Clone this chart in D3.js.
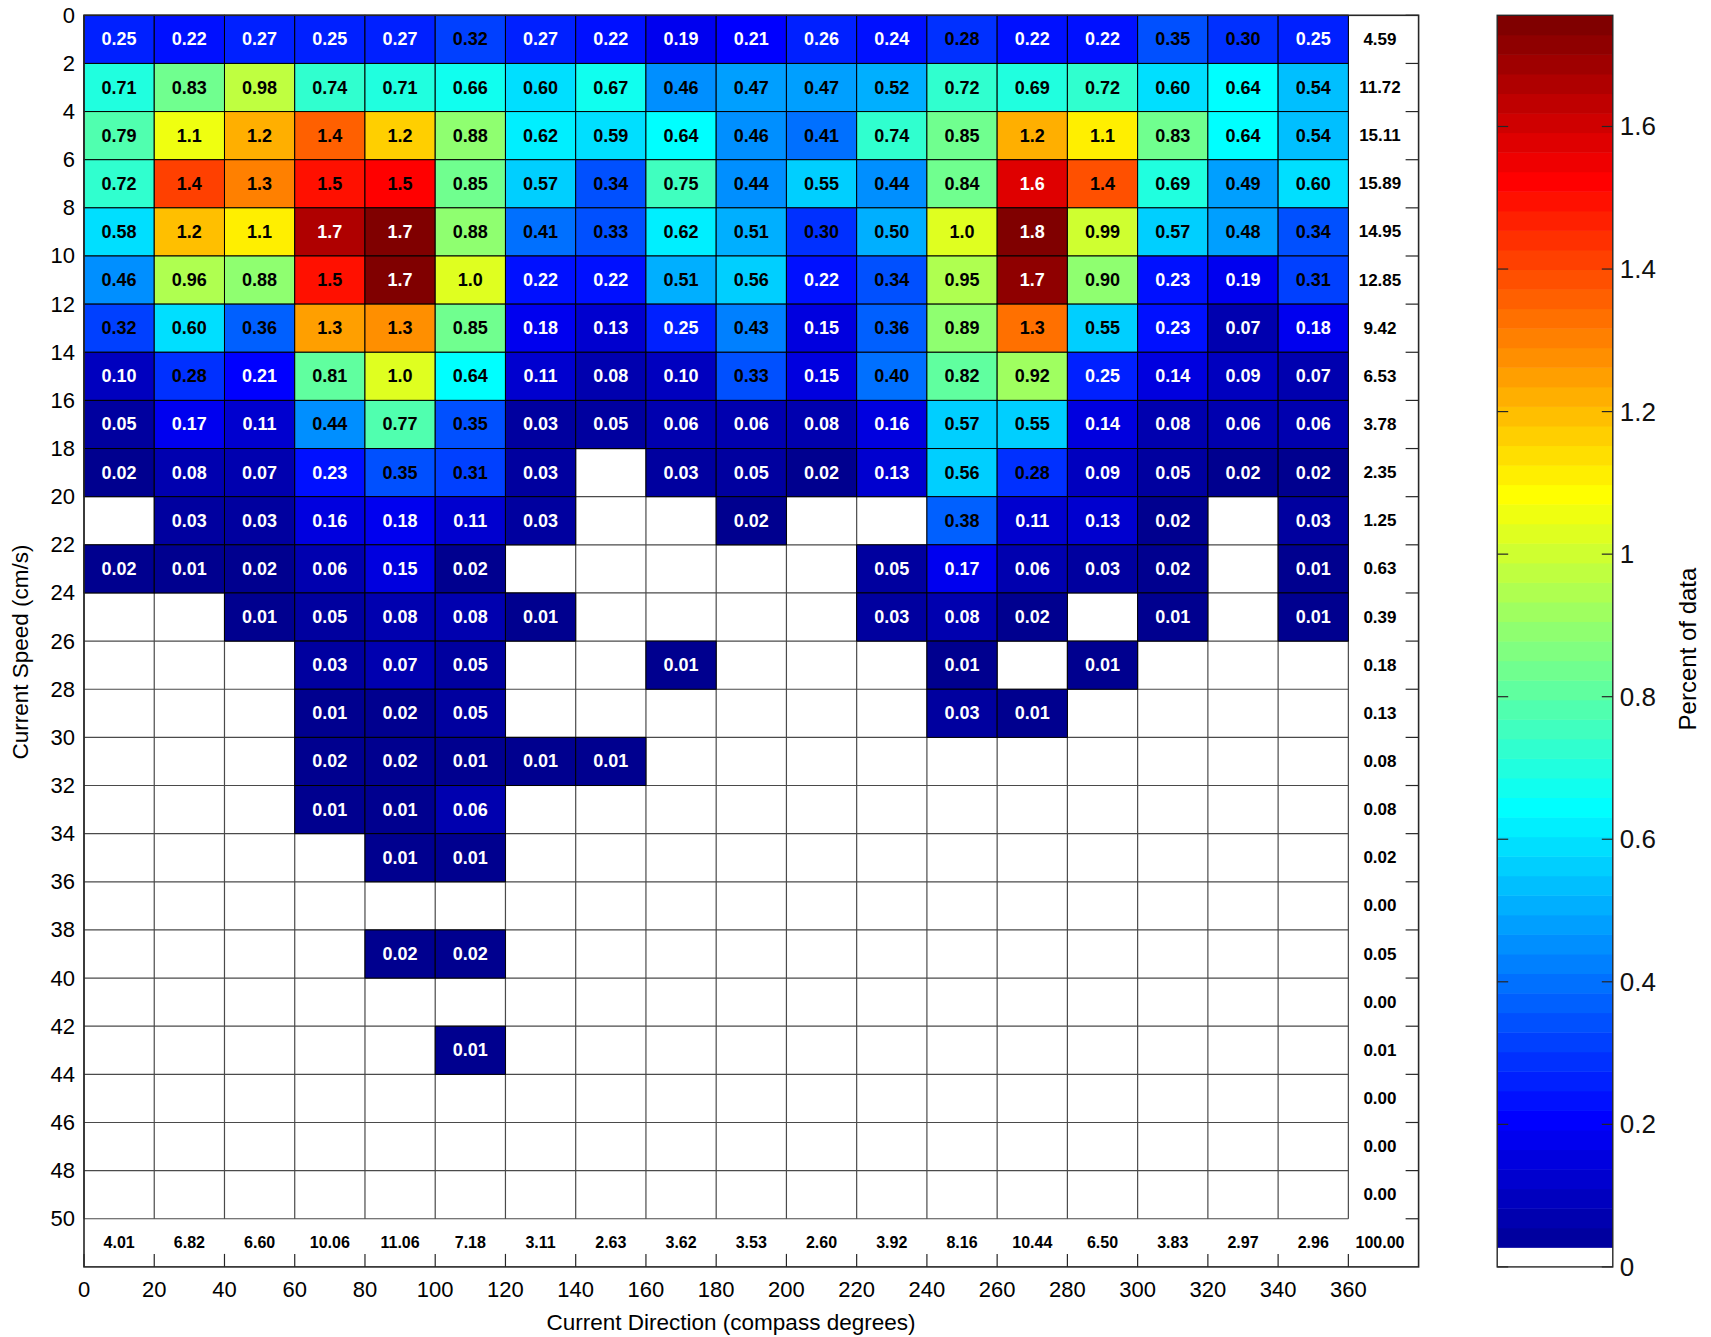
<!DOCTYPE html>
<html>
<head>
<meta charset="utf-8">
<script src="https://cdn.jsdelivr.net/npm/d3@7"></script>
<style>
  body { margin: 0; background: #fff; }
  svg { display: block; }
  text { font-family: "Liberation Sans", Arial, Helvetica, sans-serif; }
</style>
</head>
<body>
<svg id="chart" width="1711" height="1337"></svg>
<script>
// ---------------- DATA ----------------
// direction bins (left edge, compass degrees), width 20
const directionBins = [0, 20, 40, 60, 80, 100, 120, 140, 160, 180, 200, 220, 240, 260, 280, 300, 320, 340];
// speed bins (lower edge, cm/s), width 2
const speedBins = [0, 2, 4, 6, 8, 10, 12, 14, 16, 18, 20, 22, 24, 26, 28, 30, 32, 34, 36, 38, 40, 42, 44, 46, 48];
// percent of data, one array per speed bin (rows), one entry per direction bin; null = no data
const percentBySpeed = [
  [0.25, 0.22, 0.27, 0.25, 0.27, 0.32, 0.27, 0.22, 0.19, 0.21, 0.26, 0.24, 0.28, 0.22, 0.22, 0.35, 0.30, 0.25],
  [0.71, 0.83, 0.98, 0.74, 0.71, 0.66, 0.60, 0.67, 0.46, 0.47, 0.47, 0.52, 0.72, 0.69, 0.72, 0.60, 0.64, 0.54],
  [0.79, 1.06, 1.23, 1.36, 1.16, 0.88, 0.62, 0.59, 0.64, 0.46, 0.41, 0.74, 0.85, 1.23, 1.11, 0.83, 0.64, 0.54],
  [0.72, 1.40, 1.30, 1.49, 1.51, 0.85, 0.57, 0.34, 0.75, 0.44, 0.55, 0.44, 0.84, 1.58, 1.39, 0.69, 0.49, 0.60],
  [0.58, 1.18, 1.12, 1.66, 1.74, 0.88, 0.41, 0.33, 0.62, 0.51, 0.30, 0.50, 1.02, 1.75, 0.99, 0.57, 0.48, 0.34],
  [0.46, 0.96, 0.88, 1.50, 1.74, 1.02, 0.22, 0.22, 0.51, 0.56, 0.22, 0.34, 0.95, 1.72, 0.90, 0.23, 0.19, 0.31],
  [0.32, 0.60, 0.36, 1.26, 1.28, 0.85, 0.18, 0.13, 0.25, 0.43, 0.15, 0.36, 0.89, 1.32, 0.55, 0.23, 0.07, 0.18],
  [0.10, 0.28, 0.21, 0.81, 1.03, 0.64, 0.11, 0.08, 0.10, 0.33, 0.15, 0.40, 0.82, 0.92, 0.25, 0.14, 0.09, 0.07],
  [0.05, 0.17, 0.11, 0.44, 0.77, 0.35, 0.03, 0.05, 0.06, 0.06, 0.08, 0.16, 0.57, 0.55, 0.14, 0.08, 0.06, 0.06],
  [0.02, 0.08, 0.07, 0.23, 0.35, 0.31, 0.03, null, 0.03, 0.05, 0.02, 0.13, 0.56, 0.28, 0.09, 0.05, 0.02, 0.02],
  [null, 0.03, 0.03, 0.16, 0.18, 0.11, 0.03, null, null, 0.02, null, null, 0.38, 0.11, 0.13, 0.02, null, 0.03],
  [0.02, 0.01, 0.02, 0.06, 0.15, 0.02, null, null, null, null, null, 0.05, 0.17, 0.06, 0.03, 0.02, null, 0.01],
  [null, null, 0.01, 0.05, 0.08, 0.08, 0.01, null, null, null, null, 0.03, 0.08, 0.02, null, 0.01, null, 0.01],
  [null, null, null, 0.03, 0.07, 0.05, null, null, 0.01, null, null, null, 0.01, null, 0.01, null, null, null],
  [null, null, null, 0.01, 0.02, 0.05, null, null, null, null, null, null, 0.03, 0.01, null, null, null, null],
  [null, null, null, 0.02, 0.02, 0.01, 0.01, 0.01, null, null, null, null, null, null, null, null, null, null],
  [null, null, null, 0.01, 0.01, 0.06, null, null, null, null, null, null, null, null, null, null, null, null],
  [null, null, null, null, 0.01, 0.01, null, null, null, null, null, null, null, null, null, null, null, null],
  [null, null, null, null, null, null, null, null, null, null, null, null, null, null, null, null, null, null],
  [null, null, null, null, 0.02, 0.02, null, null, null, null, null, null, null, null, null, null, null, null],
  [null, null, null, null, null, null, null, null, null, null, null, null, null, null, null, null, null, null],
  [null, null, null, null, null, 0.01, null, null, null, null, null, null, null, null, null, null, null, null],
  [null, null, null, null, null, null, null, null, null, null, null, null, null, null, null, null, null, null],
  [null, null, null, null, null, null, null, null, null, null, null, null, null, null, null, null, null, null],
  [null, null, null, null, null, null, null, null, null, null, null, null, null, null, null, null, null, null]
];
const speedTotals = [4.59, 11.72, 15.11, 15.89, 14.95, 12.85, 9.42, 6.53, 3.78, 2.35, 1.25, 0.63, 0.39, 0.18, 0.13, 0.08, 0.08, 0.02, 0.00, 0.05, 0.00, 0.01, 0.00, 0.00, 0.00];
const directionTotals = [4.01, 6.82, 6.60, 10.06, 11.06, 7.18, 3.11, 2.63, 3.62, 3.53, 2.60, 3.92, 8.16, 10.44, 6.50, 3.83, 2.97, 2.96];
const grandTotal = 100.00;

const xTickValues = [0, 20, 40, 60, 80, 100, 120, 140, 160, 180, 200, 220, 240, 260, 280, 300, 320, 340, 360];
const yTickValues = [0, 2, 4, 6, 8, 10, 12, 14, 16, 18, 20, 22, 24, 26, 28, 30, 32, 34, 36, 38, 40, 42, 44, 46, 48, 50];
const colorTickValues = [0, 0.2, 0.4, 0.6, 0.8, 1, 1.2, 1.4, 1.6];
const colorMax = 1.756;
const nColors = 64;

const xLabel = "Current Direction (compass degrees)";
const yLabel = "Current Speed (cm/s)";
const cbLabel = "Percent of data";

// ---------------- LAYOUT ----------------
const plot = { left: 84, right: 1418.6, top: 15.3, bottom: 1266.9 };
const cb = { left: 1497.2, right: 1612.8, top: 15.3, bottom: 1266.9 };

const svg = d3.select("#chart");
svg.append("rect").attr("width", 1711).attr("height", 1337).attr("fill", "#fff");

const x = d3.scaleLinear().domain([0, 380]).range([plot.left, plot.right]);
const y = d3.scaleLinear().domain([0, 52]).range([plot.top, plot.bottom]);
const cScale = d3.scaleLinear().domain([0, colorMax]).range([cb.bottom, cb.top]);

// MATLAB jet(64)
function jet(i) {
  let r, g, b;
  if (i < 8) b = 0.5625 + 0.0625 * i; else if (i < 24) b = 1; else if (i < 40) b = 1 - 0.0625 * (i - 23); else b = 0;
  if (i < 8) g = 0; else if (i < 24) g = 0.0625 * (i - 7); else if (i < 40) g = 1; else if (i < 56) g = 1 - 0.0625 * (i - 39); else g = 0;
  if (i < 24) r = 0; else if (i < 40) r = 0.0625 * (i - 23); else if (i < 56) r = 1; else r = 1 - 0.0625 * (i - 55);
  return d3.rgb(Math.round(r * 255), Math.round(g * 255), Math.round(b * 255)).formatHex();
}
const colorIndex = v => Math.max(0, Math.min(nColors - 1, Math.floor(v / colorMax * nColors)));

// ---------------- GRID ----------------
const gridG = svg.append("g");
gridG.selectAll("line.v").data(xTickValues).join("line")
  .attr("x1", d => x(d)).attr("x2", d => x(d))
  .attr("y1", y(0)).attr("y2", y(50))
  .attr("stroke", "#4a4a4a").attr("stroke-width", 1.2);
gridG.selectAll("line.h").data(yTickValues).join("line")
  .attr("x1", x(0)).attr("x2", x(360))
  .attr("y1", d => y(d)).attr("y2", d => y(d))
  .attr("stroke", "#4a4a4a").attr("stroke-width", 1.2);

// ---------------- CELLS ----------------
const cells = [];
percentBySpeed.forEach((row, i) => row.forEach((v, j) => {
  if (v !== null) cells.push({ speed: speedBins[i], dir: directionBins[j], v });
}));

const cellG = svg.append("g");
cellG.selectAll("rect").data(cells).join("rect")
  .attr("x", d => x(d.dir)).attr("y", d => y(d.speed))
  .attr("width", d => x(d.dir + 20) - x(d.dir))
  .attr("height", d => y(d.speed + 2) - y(d.speed))
  .attr("fill", d => jet(colorIndex(d.v)))
  .attr("stroke", "#000").attr("stroke-width", 1);

const fmtCell = v => v >= 1 ? v.toFixed(1) : v.toFixed(2);
cellG.selectAll("text").data(cells).join("text")
  .attr("x", d => x(d.dir + 10)).attr("y", d => y(d.speed + 1))
  .attr("text-anchor", "middle").attr("dominant-baseline", "central")
  .attr("font-size", 18).attr("font-weight", "bold")
  .attr("fill", d => { const k = colorIndex(d.v); return (k <= 9 || k >= 56) ? "#fff" : "#000"; })
  .text(d => fmtCell(d.v));

// ---------------- TOTALS ----------------
svg.append("g").selectAll("text").data(speedTotals).join("text")
  .attr("x", x(369)).attr("y", (d, i) => y(speedBins[i] + 1))
  .attr("text-anchor", "middle").attr("dominant-baseline", "central")
  .attr("font-size", 17).attr("font-weight", "bold").attr("fill", "#000")
  .text(d => d.toFixed(2));

svg.append("g").selectAll("text").data(directionTotals).join("text")
  .attr("x", (d, i) => x(directionBins[i] + 10)).attr("y", y(51))
  .attr("text-anchor", "middle").attr("dominant-baseline", "central")
  .attr("font-size", 16).attr("font-weight", "bold").attr("fill", "#000")
  .text(d => d.toFixed(2));

svg.append("text")
  .attr("x", x(369)).attr("y", y(51))
  .attr("text-anchor", "middle").attr("dominant-baseline", "central")
  .attr("font-size", 16).attr("font-weight", "bold").attr("fill", "#000")
  .text(grandTotal.toFixed(2));

// ---------------- AXES ----------------
const axisG = svg.append("g");
const tickLen = 13;
// bottom ticks (inward)
axisG.selectAll("line.bt").data(xTickValues).join("line")
  .attr("x1", d => x(d)).attr("x2", d => x(d))
  .attr("y1", plot.bottom).attr("y2", plot.bottom - tickLen)
  .attr("stroke", "#262626").attr("stroke-width", 1.2);
// right ticks (inward)
axisG.selectAll("line.rt").data(yTickValues).join("line")
  .attr("x1", plot.right).attr("x2", plot.right - tickLen)
  .attr("y1", d => y(d)).attr("y2", d => y(d))
  .attr("stroke", "#262626").attr("stroke-width", 1.2);
// frame
axisG.append("rect")
  .attr("x", plot.left).attr("y", plot.top)
  .attr("width", plot.right - plot.left).attr("height", plot.bottom - plot.top)
  .attr("fill", "none").attr("stroke", "#262626").attr("stroke-width", 1.6);

axisG.selectAll("text.xt").data(xTickValues).join("text")
  .attr("x", d => x(d)).attr("y", plot.bottom + 23)
  .attr("text-anchor", "middle").attr("dominant-baseline", "central")
  .attr("font-size", 22).attr("fill", "#000")
  .text(d => d);
axisG.selectAll("text.yt").data(yTickValues).join("text")
  .attr("x", plot.left - 9).attr("y", d => y(d))
  .attr("text-anchor", "end").attr("dominant-baseline", "central")
  .attr("font-size", 22).attr("fill", "#000")
  .text(d => d);

svg.append("text")
  .attr("x", 731).attr("y", 1322)
  .attr("text-anchor", "middle").attr("dominant-baseline", "central")
  .attr("font-size", 22.5).attr("fill", "#000")
  .text(xLabel);
svg.append("text")
  .attr("transform", "translate(20,652) rotate(-90)")
  .attr("text-anchor", "middle").attr("dominant-baseline", "central")
  .attr("font-size", 22.5).attr("fill", "#000")
  .text(yLabel);

// ---------------- COLORBAR ----------------
const bands = d3.range(nColors);
const cbG = svg.append("g");
cbG.selectAll("rect").data(bands).join("rect")
  .attr("x", cb.left).attr("width", cb.right - cb.left)
  .attr("y", k => cScale((k + 1) * colorMax / nColors))
  .attr("height", k => cScale(k * colorMax / nColors) - cScale((k + 1) * colorMax / nColors) + 0.5)
  .attr("fill", k => k === 0 ? "#fff" : jet(k));
cbG.selectAll("line.l").data(colorTickValues).join("line")
  .attr("x1", cb.left).attr("x2", cb.left + 11)
  .attr("y1", d => cScale(d)).attr("y2", d => cScale(d))
  .attr("stroke", "#262626").attr("stroke-width", 1.2);
cbG.selectAll("line.r").data(colorTickValues).join("line")
  .attr("x1", cb.right).attr("x2", cb.right - 11)
  .attr("y1", d => cScale(d)).attr("y2", d => cScale(d))
  .attr("stroke", "#262626").attr("stroke-width", 1.2);
cbG.append("rect")
  .attr("x", cb.left).attr("y", cb.top)
  .attr("width", cb.right - cb.left).attr("height", cb.bottom - cb.top)
  .attr("fill", "none").attr("stroke", "#262626").attr("stroke-width", 1.4);
cbG.selectAll("text").data(colorTickValues).join("text")
  .attr("x", cb.right + 7).attr("y", d => cScale(d))
  .attr("text-anchor", "start").attr("dominant-baseline", "central")
  .attr("font-size", 26).attr("fill", "#111")
  .text(d => String(d));
svg.append("text")
  .attr("transform", "translate(1687,649) rotate(-90)")
  .attr("text-anchor", "middle").attr("dominant-baseline", "central")
  .attr("font-size", 24).attr("fill", "#000")
  .text(cbLabel);
</script>
</body>
</html>
